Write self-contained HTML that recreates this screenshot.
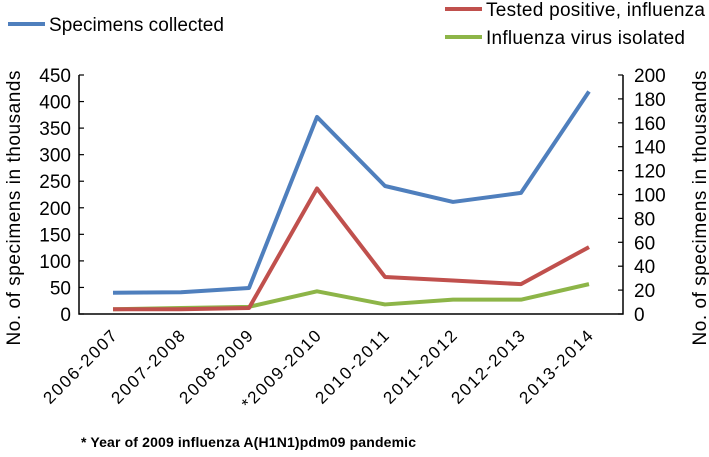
<!DOCTYPE html>
<html><head><meta charset="utf-8"><style>
body{margin:0;background:#fff;}
svg{display:block;font-family:"Liberation Sans",sans-serif;}
</style></head><body>
<svg id="chart" width="709" height="457" viewBox="0 0 709 457" xmlns="http://www.w3.org/2000/svg">
</svg>
<script>
const categories=["2006-2007","2007-2008","2008-2009","*2009-2010","2010-2011","2011-2012","2012-2013","2013-2014"];
const specimens=[40,41,49,371,241,211,228,419];
const positive=[4,4,5,105,31,28,25,56];
const isolated=[4,5,6,19,8,12,12,25];
const leftTicks=[0,50,100,150,200,250,300,350,400,450];
const rightTicks=[0,20,40,60,80,100,120,140,160,180,200];

const NS="http://www.w3.org/2000/svg";
const svg=document.getElementById('chart');
const X0=79,X1=623,Y0=314,Y1=75;
const xs=i=>X0+(X1-X0)/categories.length*(i+0.5);
const yL=v=>Y0-(v/450)*(Y0-Y1);
const yR=v=>Y0-(v/200)*(Y0-Y1);
function mk(tag,attrs,parent){const e=document.createElementNS(NS,tag);for(const k in attrs)e.setAttribute(k,attrs[k]);(parent||svg).appendChild(e);return e;}

let a=mk('path',{d:`M${X0},${Y1}V${Y0}H${X1}V${Y1}`,fill:'none',stroke:'#000','stroke-width':1.5});


leftTicks.forEach(v=>{
  let t=mk('line',{x1:X0,x2:X0+5,y1:yL(v),y2:yL(v),stroke:'#000','stroke-width':1.2});
  
  
  let l=mk('text',{x:X0-8,y:yL(v)+7,'text-anchor':'end','font-size':19,fill:'#000'});
  l.textContent=v;
  
  
});
rightTicks.forEach(v=>{
  let t=mk('line',{x1:X1-5,x2:X1,y1:yR(v),y2:yR(v),stroke:'#000','stroke-width':1.2});
  
  
  let l=mk('text',{x:X1+11,y:yR(v)+7,'text-anchor':'start','font-size':19,fill:'#000'});
  l.textContent=v;
  
  
});
categories.forEach((c,i)=>{
  const px=xs(i)+5, py=337;
  let l=mk('text',{x:px,y:py,'text-anchor':'end','font-size':17,fill:'#000',transform:`rotate(-45 ${px} ${py})`});
  l.textContent=c;
  l.setAttribute('textLength', c.startsWith('*')?104:96);
  
  
});
let lt=mk('text',{x:0,y:0,'text-anchor':'middle','font-size':19,fill:'#000',textLength:275,transform:'translate(20,208) rotate(-90)'});
lt.textContent='No. of specimens in thousands';


let rt=mk('text',{x:0,y:0,'text-anchor':'middle','font-size':19,fill:'#000',textLength:275,transform:'translate(706,208) rotate(-90)'});
rt.textContent='No. of specimens in thousands';



function series(vals,sc,color,name){
  let p=mk('polyline',{points:vals.map((v,i)=>`${xs(i)},${sc(v)}`).join(' '),fill:'none',stroke:color,'stroke-width':4,'stroke-linejoin':'round'});
  
  
}
series(isolated,yR,'#8db548','isolated-line');
series(positive,yR,'#c0504d','positive-line');
series(specimens,yL,'#4f7fbd','specimens-line');

function legend(x,y,color,text,len,name){
  let g=mk('g',{});
  
  
  mk('line',{x1:x,x2:x+37,y1:y,y2:y,stroke:color,'stroke-width':4},g);
  let t=mk('text',{x:x+41,y:y+7,'font-size':19,fill:'#000',textLength:len},g);
  t.textContent=text;
}
legend(8,24,'#4f7fbd','Specimens collected',175,'legend-specimens');
legend(445,9,'#c0504d','Tested positive, influenza',219,'legend-positive');
legend(445,37,'#8db548','Influenza virus isolated',199,'legend-isolated');

let fn=mk('text',{x:81,y:447,'font-size':14,'font-weight':'bold',fill:'#000',textLength:335});
fn.textContent='* Year of 2009 influenza A(H1N1)pdm09 pandemic';


</script>
</body></html>
